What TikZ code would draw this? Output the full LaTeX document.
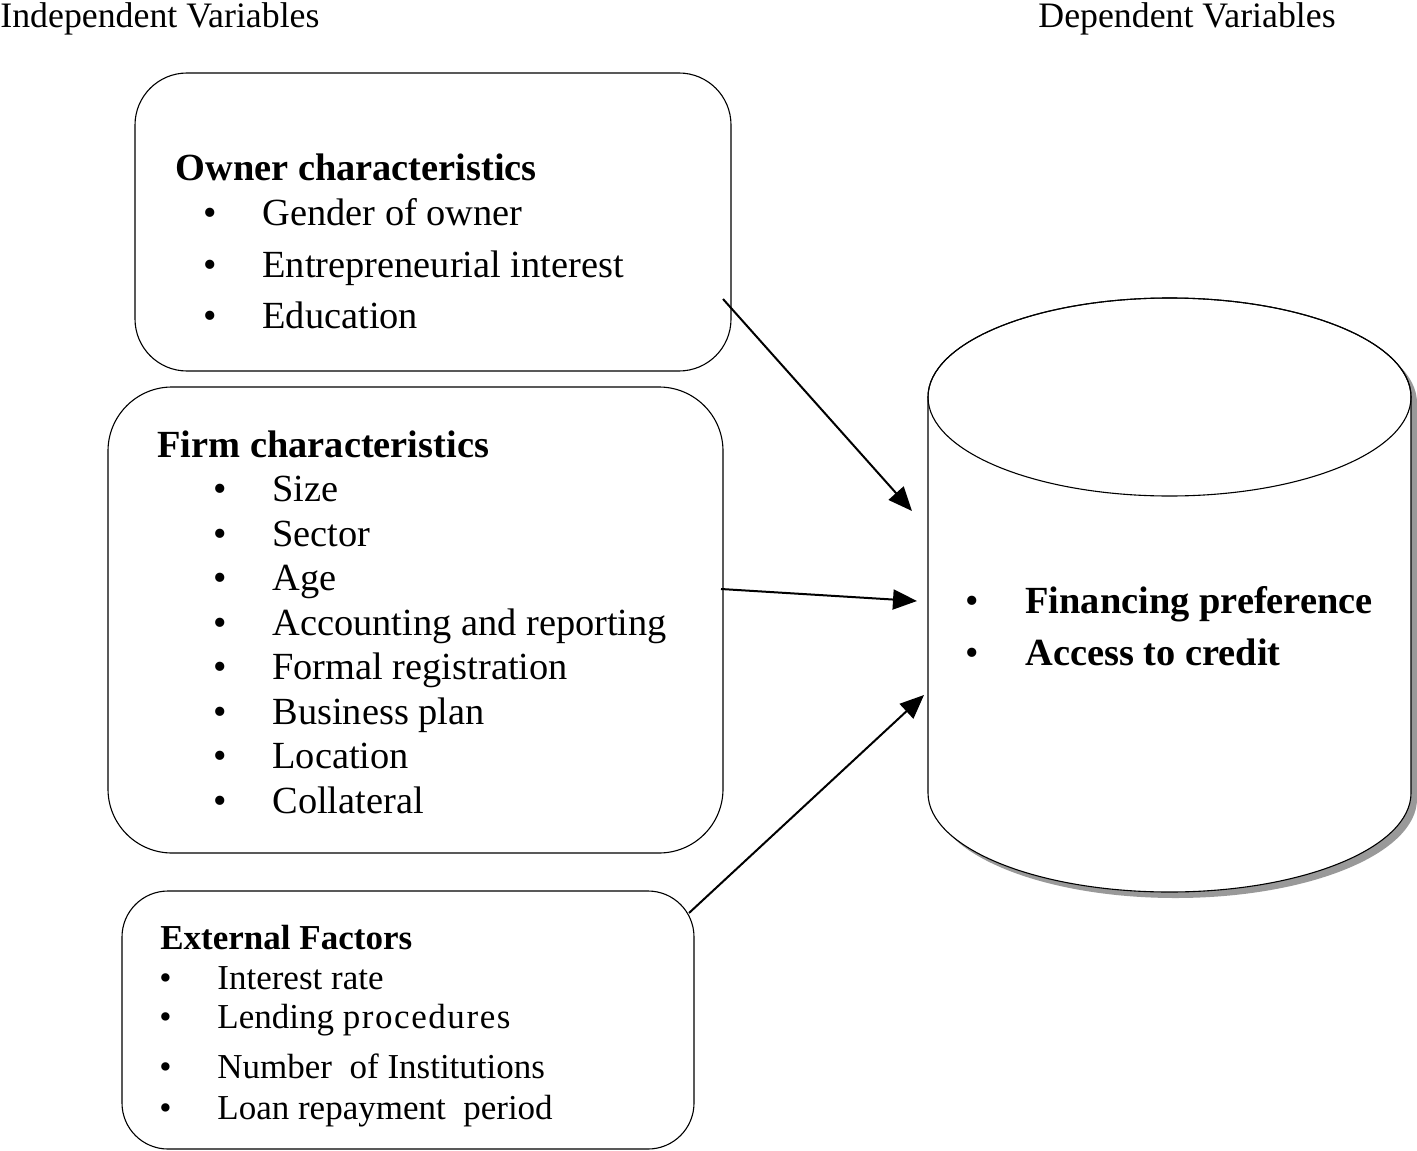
\documentclass[tikz,border=0pt]{standalone}
\usepackage{fontspec}
\setmainfont{Liberation Serif}
\newfontfamily\spaced[LetterSpace=4.5]{Liberation Serif}
\usetikzlibrary{arrows.meta}
\begin{document}
\begin{tikzpicture}[x=0.5pt,y=-0.5pt,
  box/.style={draw=black, line width=0.55pt, rounded corners=#1, inner sep=0pt},
  big/.style={anchor=base west, inner sep=0pt, font=\fontsize{19.2}{23}\selectfont},
  bigb/.style={anchor=base west, inner sep=0pt, font=\fontsize{19.2}{23}\selectfont\bfseries},
  sml/.style={anchor=base west, inner sep=0pt, font=\fontsize{17.5}{21}\selectfont},
  smlb/.style={anchor=base west, inner sep=0pt, font=\fontsize{17.5}{21}\selectfont\bfseries},
  hdr/.style={anchor=base west, inner sep=0pt, font=\fontsize{17.9}{21}\selectfont},
  conn/.style={line width=1pt, -{Triangle[length=12pt,width=10pt]}}]
\useasboundingbox (0,0) rectangle (1417,1150);

% headers
\node[hdr] (hind) at (0,28) {Independent Variables};
\node[hdr] (hdep) at (1038,28) {Dependent Variables};

% boxes
\node[box=26pt, minimum width=298pt, minimum height=149pt] (owner) at (433,222) {};
\node[box=32pt, minimum width=307.5pt, minimum height=233pt] (firm) at (415.5,620) {};
\node[box=23pt, minimum width=286pt, minimum height=129pt] (ext) at (408,1020) {};

% owner text
\node[bigb] (ot) at (175,181) {Owner characteristics};
\foreach \y/\t [count=\i] in {226/Gender of owner, 277/Entrepreneurial interest, 328/Education}{
  \node[big] (ob\i) at (203,\y) {\textbullet};
  \node[big] (oi\i) at (262,\y) {\t};
}

% firm text
\node[bigb] (ft) at (157,457) {Firm characteristics};
\foreach \y/\t [count=\i] in {501/Size, 546/Sector, 590/Age, 635/Accounting and reporting, 679/Formal registration, 724/Business plan, 768/Location, 813/Collateral}{
  \node[big] (fb\i) at (213,\y) {\textbullet};
  \node[big] (fi\i) at (272,\y) {\t};
}

% external text
\node[smlb] (et) at (160,949) {External Factors};
\foreach \y/\t [count=\i] in {989/Interest rate, 1028/Lending {\spaced procedures}, 1078/Number\ \ of Institutions, 1119/Loan repayment\ \ period}{
  \node[sml] (eb\i) at (159,\y) {\textbullet};
  \node[sml] (ei\i) at (217,\y) {\t};
}

% cylinder with shadow
\fill[gray!80] ([xshift=3pt,yshift=-3pt]928,397) -- ([xshift=3pt,yshift=-3pt]928,793)
  arc[start angle=180, end angle=360, x radius=120.75pt, y radius=49.5pt]
  -- ([xshift=3pt,yshift=-3pt]1411,397)
  arc[start angle=0, end angle=180, x radius=120.75pt, y radius=49.5pt] -- cycle;
\draw[line width=0.55pt, fill=white] (928,397) -- (928,793)
  arc[start angle=180, end angle=360, x radius=120.75pt, y radius=49.5pt]
  -- (1411,397)
  arc[start angle=0, end angle=180, x radius=120.75pt, y radius=49.5pt] -- cycle;
\draw[line width=0.55pt] (1169.5,397) ellipse [x radius=120.75pt, y radius=49.5pt];
\node[inner sep=0pt] (dep) at (1169.5,640) {};

\node[big] (cb1) at (965,613) {\textbullet};
\node[bigb] (ci1) at (1025,613) {Financing preference};
\node[big] (cb2) at (965,665) {\textbullet};
\node[bigb] (ci2) at (1025,665) {Access to credit};

% connectors
\coordinate (s1) at (723,299);
\coordinate (t1) at (912,511);
\coordinate (s2) at (721,589);
\coordinate (t2) at (917,601);
\coordinate (s3) at (689,913);
\coordinate (t3) at (924,695);
\draw[conn] (s1) -- (t1);
\draw[conn] (s2) -- (t2);
\draw[conn] (s3) -- (t3);
\end{tikzpicture}
\end{document}
